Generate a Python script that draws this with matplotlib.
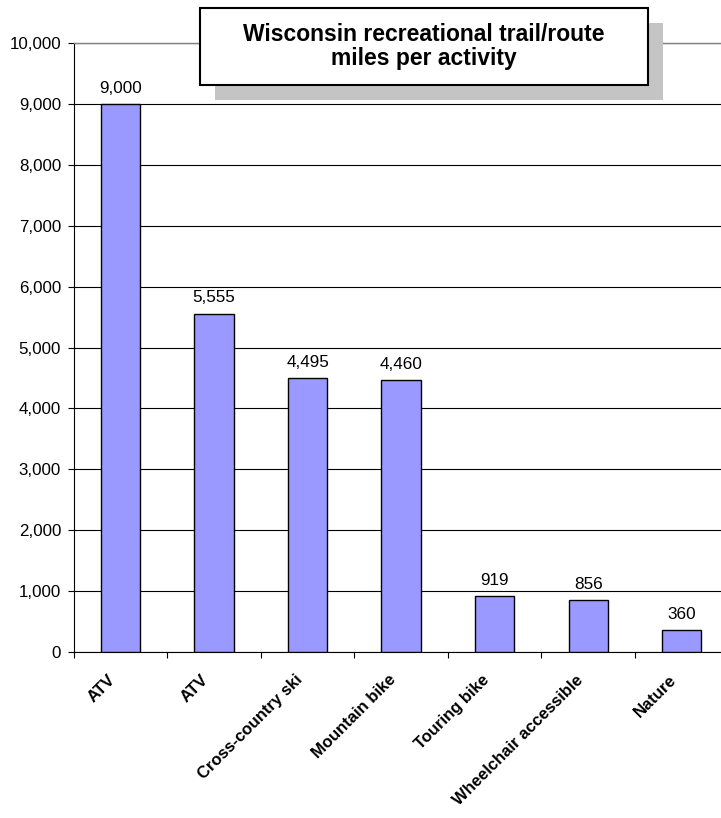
import matplotlib
matplotlib.use("Agg")
import matplotlib.pyplot as plt
from matplotlib.patches import Rectangle
from matplotlib.ticker import FuncFormatter, MultipleLocator

categories = ["ATV", "ATV", "Cross-country ski", "Mountain bike", "Touring bike",
              "Wheelchair accessible", "Nature"]
values = [9000, 5555, 4495, 4460, 919, 856, 360]
title = "Wisconsin recreational trail/route\nmiles per activity"

plt.rcParams['font.family'] = ['Liberation Sans', 'DejaVu Sans']

W, H = 721, 818
fig = plt.figure(figsize=(W / 100, H / 100), dpi=100)
left, right, top, bottom = 73.6, 73.6 + 655, 43, 652
ax = fig.add_axes([left / W, 1 - bottom / H, (right - left) / W, (bottom - top) / H])

x = list(range(len(categories)))
ax.bar(x, values, width=0.42, color="#9999FF", edgecolor="black", linewidth=1.0, zorder=3)
for xi, v in zip(x, values):
    ax.annotate(f"{v:,}", (xi, v), xytext=(0, 6), textcoords="offset points",
                ha="center", va="bottom", fontsize=12.3)

ax.set_xlim(-0.5, len(categories) - 0.5)
ax.set_ylim(0, 10000)
ax.yaxis.set_major_locator(MultipleLocator(1000))
ax.yaxis.set_major_formatter(FuncFormatter(lambda v, p: f"{int(v):,}"))
ax.grid(axis="y", color="black", linewidth=0.8, zorder=0)
ax.set_axisbelow(True)
ax.spines["right"].set_visible(False)
ax.spines["top"].set_color("#808080")
ax.spines["top"].set_linewidth(1.0)
ax.spines["left"].set_linewidth(0.8)
ax.spines["bottom"].set_linewidth(0.8)

ax.set_xticks([i - 0.5 for i in range(len(categories))] + [len(categories) - 0.5])
ax.set_xticklabels([])
ax.tick_params(axis="x", which="major", direction="out", length=4.5, width=0.8)
ax.tick_params(axis="y", direction="out", length=4, width=0.8, pad=5, labelsize=12.2)

# category labels, rotated 45 degrees, right end near the category centre
for xi, cat in zip(x, categories):
    ax.annotate(cat, xy=(xi, 0), xycoords=("data", "axes fraction"),
                xytext=(-9.5, -14.5), textcoords="offset points",
                rotation=45, rotation_mode="anchor", ha="right", va="top",
                fontsize=12, fontweight="bold", annotation_clip=False)

# title box with shadow (pixel coordinates)
bx0, by0, bx1, by1 = 200, 8, 648, 85
off = 15
shadow = Rectangle((bx0 + off, H - by1 - off), bx1 - bx0, by1 - by0,
                   transform=None, facecolor="#C4C4C4", edgecolor="none", zorder=5)
shadow.set_figure(fig)
fig.patches.append(shadow)
box = Rectangle((bx0, H - by1), bx1 - bx0, by1 - by0, transform=None,
                facecolor="white", edgecolor="black", linewidth=1.5, zorder=6)
box.set_figure(fig)
fig.patches.append(box)
fig.text((bx0 + bx1) / 2 / W, 1 - (by0 + by1) / 2 / H, title, ha="center", va="center",
         fontsize=16.5, fontweight="bold", linespacing=1.1, zorder=7)

fig.savefig("out.png", dpi=100)
